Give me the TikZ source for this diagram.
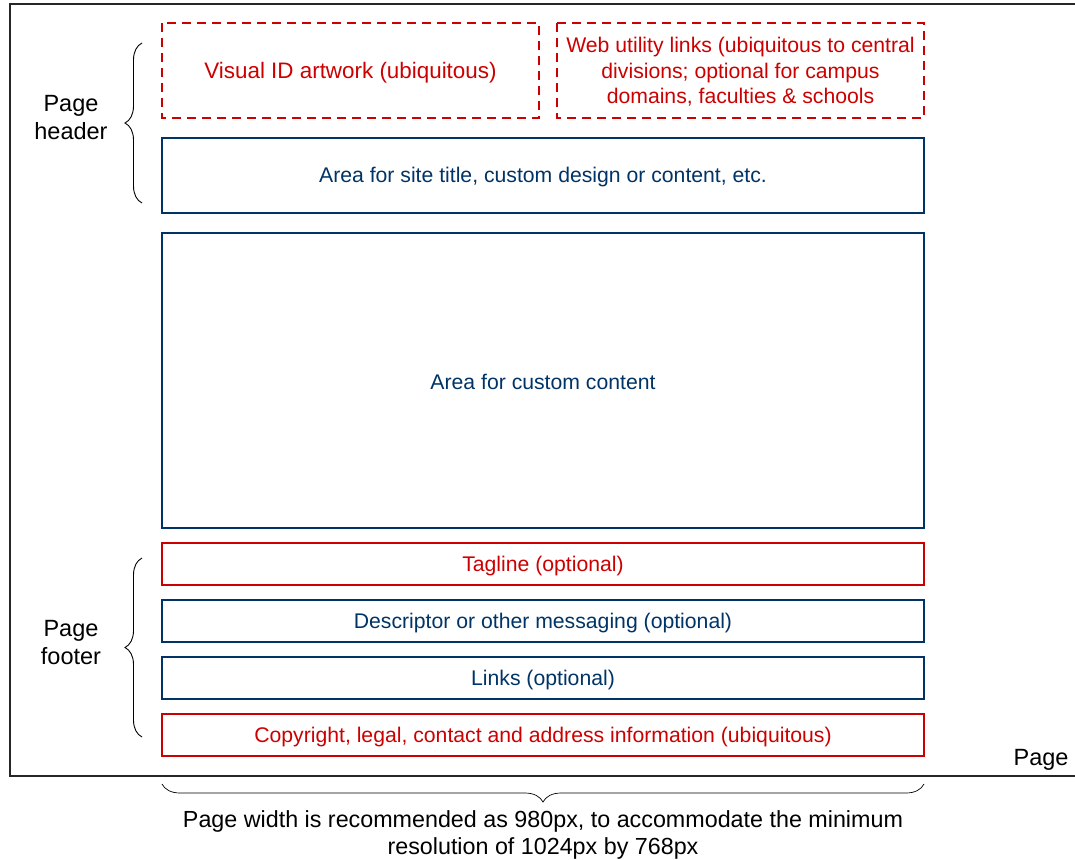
\documentclass[tikz,border=0pt]{standalone}
\usepackage{fontspec}
\setmainfont{Liberation Sans}
\usetikzlibrary{decorations.pathreplacing}
\definecolor{ured}{RGB}{204,0,0}
\definecolor{ublue}{RGB}{0,51,102}
\begin{document}
\begin{tikzpicture}[x=1pt,y=-1pt,
  txt/.style={font=\fontsize{21.2}{25.5}\selectfont, align=center},
  lbl/.style={font=\fontsize{23.5}{28}\selectfont, align=center},
  redbox/.style={draw=ured, line width=1.3pt},
  bluebox/.style={draw=ublue, line width=1.3pt},
  dbox/.style={redbox, dash pattern=on 9pt off 6pt},
  brc/.style={draw=black, line width=0.9pt, decorate, decoration={brace, amplitude=17pt, aspect=0.5}}]
\useasboundingbox (0,0) rectangle (1075,859);
\draw[line width=1.4pt, draw=black!85] (1085,4) -- (10,4) -- (10,776) -- (1085,776);
% header
\draw[dbox] (162,23) rectangle (539,118);
\node[txt, font=\fontsize{22.4}{26}\selectfont, text=ured] (vis) at (350.5,72.5) {Visual ID artwork (ubiquitous)};
\draw[dbox] (557,23) rectangle (924,118);
\node[txt, text=ured] (web) at (740.5,72) {Web utility links (ubiquitous to central\\divisions; optional for campus\\domains, faculties \& schools};
\draw[bluebox] (162,138) rectangle (924,213);
\node[txt, text=ublue] (site) at (543,177.5) {Area for site title, custom design or content, etc.};
\draw[bluebox] (162,233) rectangle (924,528);
\node[txt, text=ublue] (cont) at (543,382) {Area for custom content};
% footer
\draw[redbox] (162,543) rectangle (924,585);
\node[txt, text=ured] (tag) at (543,566) {Tagline (optional)};
\draw[bluebox] (162,600) rectangle (924,642);
\node[txt, text=ublue] (desc) at (543,623) {Descriptor or other messaging (optional)};
\draw[bluebox] (162,657) rectangle (924,699);
\node[txt, text=ublue] (links) at (543,680) {Links (optional)};
\draw[redbox] (162,714) rectangle (924,756);
\node[txt, text=ured] (copy) at (543,737) {Copyright, legal, contact and address information (ubiquitous)};
% braces
\coordinate (hb1) at (142,203);
\coordinate (hb2) at (142,43);
\draw[brc] (hb1) -- (hb2);
\node[lbl] (hdr) at (71,118) {Page\\header};
\coordinate (fb1) at (142,737);
\coordinate (fb2) at (142,558);
\draw[brc] (fb1) -- (fb2);
\node[lbl] (ftr) at (71,643) {Page\\footer};
\node[lbl, anchor=east] (page) at (1072,760) {Page};
\coordinate (bb1) at (162,784);
\coordinate (bb2) at (924,784);
\draw[brc, line width=0.7pt, decoration={brace, mirror, amplitude=18pt}] (bb1) -- (bb2);
\node[lbl, font=\fontsize{23.3}{27}\selectfont] (note) at (543,834.5) {Page width is recommended as 980px, to accommodate the minimum\\resolution of 1024px by 768px};
\end{tikzpicture}
\end{document}
